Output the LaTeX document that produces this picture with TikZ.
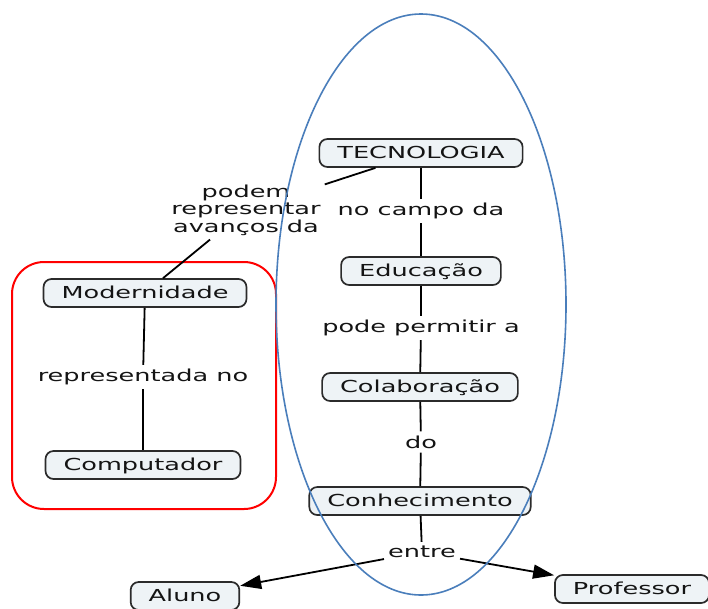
\documentclass[tikz,border=0pt]{standalone}
\usepackage{fontspec}
\setmainfont{DejaVu Sans}[FakeStretch=1.55]
\usetikzlibrary{arrows.meta}
\definecolor{nodefill}{HTML}{EEF3F6}
\definecolor{nodeline}{HTML}{2B2B2B}
\definecolor{txt}{HTML}{141414}
\definecolor{ellblue}{HTML}{4A7EBB}
\tikzset{
  concept/.style={draw=nodeline, fill=nodefill, line width=1.7pt, rounded corners=8pt,
    minimum height=28pt, inner xsep=18pt, inner ysep=0pt, text height=12pt, text depth=1pt,
    text=txt, font=\fontsize{16.5}{17.5}\selectfont},
  linkl/.style={text=txt, font=\fontsize{16.5}{17.5}\selectfont, inner sep=4pt, align=center},
  conn/.style={draw=black, line width=1.8pt},
  arr/.style={conn, -{Triangle[length=21pt,width=14pt]}}
}
\begin{document}
\begin{tikzpicture}[x=1pt,y=-1pt]
\clip (0,0) rectangle (708,608);
\fill[white] (0,0) rectangle (708,608);
% groups
\draw[red, line width=2pt, rounded corners=32pt] (12,262) rectangle (276,509);
% nodes
\node[concept] (tec) at (421,153) {TECNOLOGIA};
\node[concept] (edu) at (421,271) {Educação};
\node[concept] (col) at (420,387) {Colaboração};
\node[concept] (con) at (420,501) {Conhecimento};
\node[concept] (mod) at (145,293) {Modernidade};
\node[concept] (com) at (143,465) {Computador};
\node[concept] (alu) at (185,596) {Aluno};
\node[concept] (pro) at (632,589) {Professor};
% link labels
\node[linkl] (l1) at (246,210) {podem\\representar\\avanços da};
\node[linkl] (l2) at (421,211) {no campo da};
\node[linkl] (l3) at (421,328) {pode permitir a};
\node[linkl] (l4) at (143,377) {representada no};
\node[linkl] (l5) at (421,442) {do};
\node[linkl] (l6) at (422,552) {entre};
% connectors
\draw[conn] (tec) -- (l1);
\draw[conn] (l1) -- (mod);
\draw[conn] (tec) -- (l2);
\draw[conn] (l2) -- (edu);
\draw[conn] (edu) -- (l3);
\draw[conn] (l3) -- (col);
\draw[conn] (col) -- (l5);
\draw[conn] (l5) -- (con);
\draw[conn] (mod) -- (l4);
\draw[conn] (l4) -- (com);
\draw[conn] (con) -- (l6);
\draw[arr] (l6) -- (alu);
\draw[arr] (l6) -- (pro);
% ellipse
\draw[ellblue, line width=1.6pt] (421,304.5) ellipse [x radius=145, y radius=290.5];
\end{tikzpicture}
\end{document}
